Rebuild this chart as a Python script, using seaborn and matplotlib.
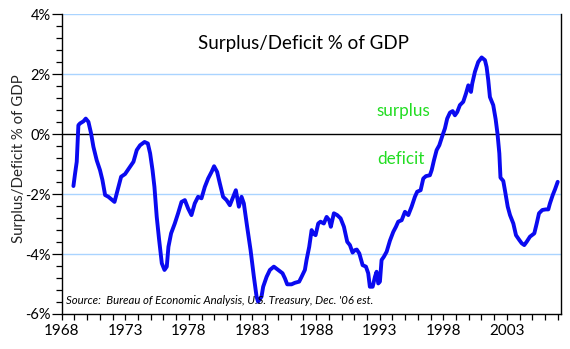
import matplotlib
matplotlib.use("Agg")
import matplotlib.pyplot as plt
from matplotlib.ticker import MultipleLocator, FuncFormatter
import seaborn as sns
import pandas as pd

# Federal surplus (+) / deficit (-) as a share of GDP
years = [
    1968.92, 1969.05, 1969.18, 1969.31, 1969.44, 1969.71, 1969.89, 1970.10, 1970.31, 1970.49,
    1970.75, 1971.01, 1971.20, 1971.41, 1971.67, 1971.93, 1972.15, 1972.46, 1972.67, 1972.98,
    1973.37, 1973.64, 1973.90, 1974.16, 1974.51, 1974.77, 1974.95, 1975.14, 1975.29, 1975.47,
    1975.66, 1975.87, 1976.08, 1976.26, 1976.39, 1976.60, 1976.89, 1977.15, 1977.42, 1977.68,
    1977.94, 1978.20, 1978.46, 1978.72, 1978.99, 1979.25, 1979.51, 1979.78, 1979.98, 1980.22,
    1980.43, 1980.69, 1980.96, 1981.22, 1981.48, 1981.69, 1981.93, 1982.14, 1982.32, 1982.58,
    1982.85, 1983.11, 1983.32, 1983.44, 1983.71, 1983.84, 1984.11, 1984.37, 1984.68, 1985.02,
    1985.36, 1985.55, 1985.73, 1986.07, 1986.33, 1986.67, 1986.86, 1987.12, 1987.25, 1987.46,
    1987.65, 1987.77, 1987.96, 1988.17, 1988.35, 1988.61, 1988.83, 1989.03, 1989.16, 1989.40,
    1989.66, 1989.93, 1990.19, 1990.45, 1990.66, 1990.87, 1991.05, 1991.20, 1991.40, 1991.66,
    1991.92, 1992.10, 1992.23, 1992.45, 1992.63, 1992.76, 1992.89, 1993.02, 1993.15, 1993.33,
    1993.55, 1993.81, 1994.07, 1994.28, 1994.46, 1994.73, 1994.99, 1995.25, 1995.51, 1995.77,
    1995.95, 1996.22, 1996.43, 1996.64, 1996.95, 1997.09, 1997.27, 1997.48, 1997.69, 1997.95,
    1998.13, 1998.31, 1998.53, 1998.74, 1998.92, 1999.10, 1999.31, 1999.57, 1999.79, 1999.97,
    2000.18, 2000.28, 2000.49, 2000.75, 2001.02, 2001.28, 2001.41, 2001.54, 2001.67, 2001.93,
    2002.12, 2002.27, 2002.41, 2002.50, 2002.72, 2002.85, 2003.07, 2003.25, 2003.51, 2003.72,
    2003.98, 2004.17, 2004.37, 2004.56, 2004.82, 2005.16, 2005.35, 2005.53, 2005.79, 2006.06,
    2006.26, 2006.39, 2006.61, 2006.79, 2007.00,
]
balance_pct = [
    -1.73, -1.31, -0.92, 0.30, 0.36, 0.43, 0.52, 0.41, 0.02, -0.42,
    -0.87, -1.20, -1.53, -2.03, -2.09, -2.18, -2.26, -1.76, -1.42, -1.33,
    -1.09, -0.92, -0.53, -0.37, -0.26, -0.31, -0.64, -1.20, -1.76, -2.76,
    -3.53, -4.31, -4.53, -4.42, -3.76, -3.31, -2.98, -2.64, -2.26, -2.20,
    -2.48, -2.70, -2.31, -2.09, -2.14, -1.76, -1.48, -1.26, -1.07, -1.26,
    -1.64, -2.09, -2.20, -2.37, -2.09, -1.87, -2.42, -2.09, -2.31, -3.09,
    -3.87, -4.76, -5.42, -5.59, -5.42, -5.09, -4.76, -4.53, -4.42, -4.53,
    -4.64, -4.81, -5.01, -5.01, -4.96, -4.92, -4.76, -4.53, -4.20, -3.76,
    -3.20, -3.31, -3.37, -2.98, -2.92, -2.98, -2.76, -2.87, -3.09, -2.64,
    -2.70, -2.81, -3.09, -3.59, -3.70, -3.95, -3.87, -3.85, -3.98, -4.37,
    -4.42, -4.64, -5.09, -5.09, -4.76, -4.59, -4.98, -4.92, -4.20, -4.09,
    -3.92, -3.55, -3.26, -3.09, -2.92, -2.87, -2.59, -2.70, -2.42, -2.09,
    -1.92, -1.87, -1.48, -1.40, -1.37, -1.20, -0.87, -0.53, -0.37, -0.03,
    0.19, 0.52, 0.72, 0.77, 0.63, 0.74, 0.97, 1.08, 1.36, 1.63,
    1.41, 1.69, 2.08, 2.41, 2.56, 2.47, 2.24, 1.80, 1.24, 0.97,
    0.50, 0.00, -0.64, -1.45, -1.56, -1.87, -2.42, -2.70, -2.98, -3.37,
    -3.53, -3.64, -3.70, -3.59, -3.42, -3.31, -2.98, -2.64, -2.53, -2.51,
    -2.51, -2.31, -2.03, -1.84, -1.59,
]

year_ticks = [1968, 1973, 1978, 1983, 1988, 1993, 1998, 2003]
pct_ticks = [-6, -4, -2, 0, 2, 4]

title_text = "Surplus/Deficit % of GDP"
ylabel_text = "Surplus/Deficit % of GDP"
source_text = "Source:  Bureau of Economic Analysis, U.S. Treasury, Dec. '06 est."

sns.set_style("white")
plt.rcParams["font.family"] = ["Lato", "DejaVu Sans"]

df = pd.DataFrame({"year": years, "balance": balance_pct})

fig = plt.figure(figsize=(5.70, 3.49), dpi=100)
ax = fig.add_axes([0.1083, 0.1003, 0.8757, 0.8587])

grid_blue = "#aad4ff"
for v in [-4, -2, 2, 4]:
    ax.axhline(v, color=grid_blue, lw=1.0, zorder=0)
ax.axhline(0, color="black", lw=1.0, zorder=1)

sns.lineplot(data=df, x="year", y="balance", ax=ax, color="#0a0af0",
             linewidth=2.8, sort=False, zorder=3)

ax.set_xlim(1968, 2007.25)
ax.set_ylim(-6, 4)
ax.set_xticks(year_ticks)
ax.xaxis.set_minor_locator(MultipleLocator(1))
ax.set_yticks(pct_ticks)
ax.yaxis.set_minor_locator(MultipleLocator(0.4))
ax.yaxis.set_major_formatter(FuncFormatter(lambda v, p: f"{v:.0f}%"))

ax.tick_params(axis="both", which="both", direction="out", color="black",
               width=0.9, labelsize=10.5, labelcolor="black")
ax.tick_params(axis="x", which="major", labelsize=11)
ax.tick_params(axis="y", which="major", length=7, pad=1)
ax.tick_params(axis="y", which="minor", length=4)
ax.tick_params(axis="x", which="both", length=4, pad=3)
ax.tick_params(axis="x", which="both", bottom=True)
ax.tick_params(axis="y", which="both", left=True)

for side in ["left", "bottom", "right"]:
    ax.spines[side].set_color("black")
    ax.spines[side].set_linewidth(1.0)
ax.spines["top"].set_visible(False)

ax.set_xlabel("")
ax.set_ylabel(ylabel_text, fontsize=10.8)
ax.yaxis.set_label_coords(-0.072, 0.517)

ax.text(0.485, 0.904, title_text, transform=ax.transAxes, ha="center",
        va="center", fontsize=13.5, color="black")
ax.text(1992.78, 0.78, "surplus", ha="left", va="center", fontsize=12.3,
        color="#22dd22")
ax.text(1992.78, -0.83, "deficit", ha="left", va="center", fontsize=12.3,
        color="#22dd22")
ax.text(0.008, 0.028, source_text, transform=ax.transAxes, ha="left",
        va="bottom", fontsize=8.2, style="italic", color="black")

fig.savefig("out.png", dpi=100)
